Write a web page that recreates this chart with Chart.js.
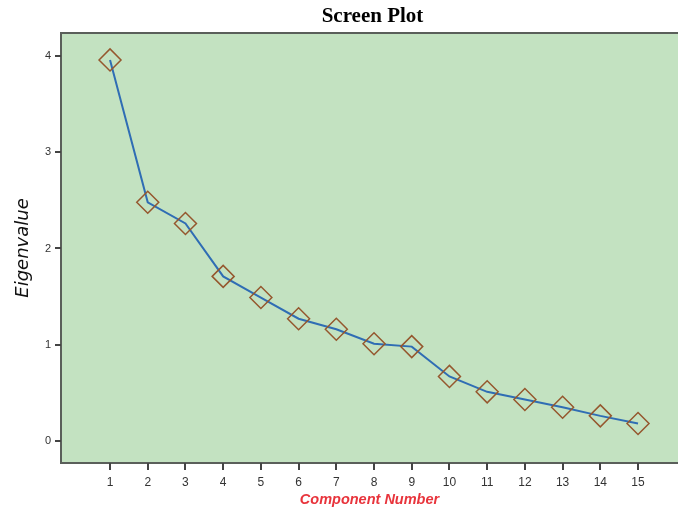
<!DOCTYPE html>
<html>
<head>
<meta charset="utf-8">
<script src="https://cdn.jsdelivr.net/npm/chart.js@4"></script>
<style>
    body { margin: 0; background: #fff; }
    .chart-container { width: 678px; height: 510px; }
</style>
</head>
<body>
<div class="chart-container">
    <canvas id="scree" width="678" height="510"></canvas>
</div>
<script>
const components = [1, 2, 3, 4, 5, 6, 7, 8, 9, 10, 11, 12, 13, 14, 15];
const eigenvalues = [3.96, 2.48, 2.26, 1.71, 1.49, 1.27, 1.16, 1.01, 0.98, 0.67, 0.51, 0.43, 0.35, 0.26, 0.18];
const yTicks = [0, 1, 2, 3, 4];

// green plot area with a frame, and the title over the plot area
const plotFrame = {
    id: 'plotFrame',
    beforeDraw(chart) {
        const { ctx, chartArea: a } = chart;
        ctx.save();
        ctx.fillStyle = '#c3e2c1';
        ctx.fillRect(a.left, a.top, a.right - a.left, a.bottom - a.top);
        ctx.strokeStyle = '#5a5f5a';
        ctx.lineWidth = 2;
        ctx.beginPath();
        ctx.moveTo(a.right, a.top);
        ctx.lineTo(a.left, a.top);
        ctx.lineTo(a.left, a.bottom);
        ctx.lineTo(a.right, a.bottom);
        ctx.stroke();
        ctx.fillStyle = '#000';
        ctx.font = 'bold 21px "Liberation Serif", serif';
        ctx.textAlign = 'center';
        ctx.textBaseline = 'middle';
        ctx.fillText('Screen Plot', (a.left + a.right) / 2 + 3, 17);
        ctx.restore();
    }
};

const initializeChart = () => {
    const ctx = document.getElementById('scree');
    new Chart(ctx, {
        type: 'line',
        data: {
            datasets: [
                {
                    label: 'Eigenvalue',
                    data: components.map((c, i) => ({ x: c, y: eigenvalues[i] })),
                    borderColor: '#2f6db4',
                    borderWidth: 2,
                    tension: 0,
                    pointStyle: 'rectRot',
                    pointRadius: 11,
                    pointHoverRadius: 11,
                    pointBorderColor: '#95572e',
                    pointBorderWidth: 1.5,
                    pointBackgroundColor: 'rgba(0,0,0,0)',
                    clip: false
                }
            ]
        },
        options: {
            responsive: false,
            animation: false,
            layout: { autoPadding: false, padding: { top: 33, right: 0, left: 0, bottom: 0 } },
            plugins: {
                legend: { display: false },
                tooltip: { enabled: false }
            },
            scales: {
                x: {
                    type: 'linear',
                    min: -0.3,
                    max: 16.06,
                    afterBuildTicks: axis => { axis.ticks = components.map(v => ({ value: v })); },
                    afterFit: axis => {
                        axis.height = 47;
                        axis.paddingLeft = 0;
                        axis.paddingRight = 0;
                    },
                    border: { display: false },
                    grid: { drawOnChartArea: false, tickLength: 7, color: '#444', lineWidth: 2 },
                    ticks: {
                        color: '#333',
                        font: { family: 'Liberation Sans', size: 12 },
                        padding: 5,
                        maxRotation: 0
                    },
                    title: {
                        display: true,
                        text: 'Component Number',
                        color: '#e8343c',
                        font: { family: 'Liberation Sans', size: 14.5, weight: 'bold', style: 'italic' },
                        padding: { top: 3, bottom: 1 }
                    }
                },
                y: {
                    min: -0.23,
                    max: 4.24,
                    afterBuildTicks: axis => { axis.ticks = yTicks.map(v => ({ value: v })); },
                    afterFit: axis => {
                        axis.width = 61;
                        axis.paddingTop = 0;
                        axis.paddingBottom = 0;
                    },
                    border: { display: false },
                    grid: { drawOnChartArea: false, tickLength: 6, color: '#444', lineWidth: 2 },
                    ticks: {
                        color: '#333',
                        font: { family: 'Liberation Sans', size: 11 },
                        padding: 4
                    },
                    title: {
                        display: true,
                        text: 'Eigenvalue',
                        color: '#111',
                        font: { family: 'DejaVu Sans', size: 18, style: 'italic' },
                        padding: { top: 13, bottom: 0 }
                    }
                }
            }
        },
        plugins: [plotFrame]
    });
};

initializeChart();
</script>
</body>
</html>
